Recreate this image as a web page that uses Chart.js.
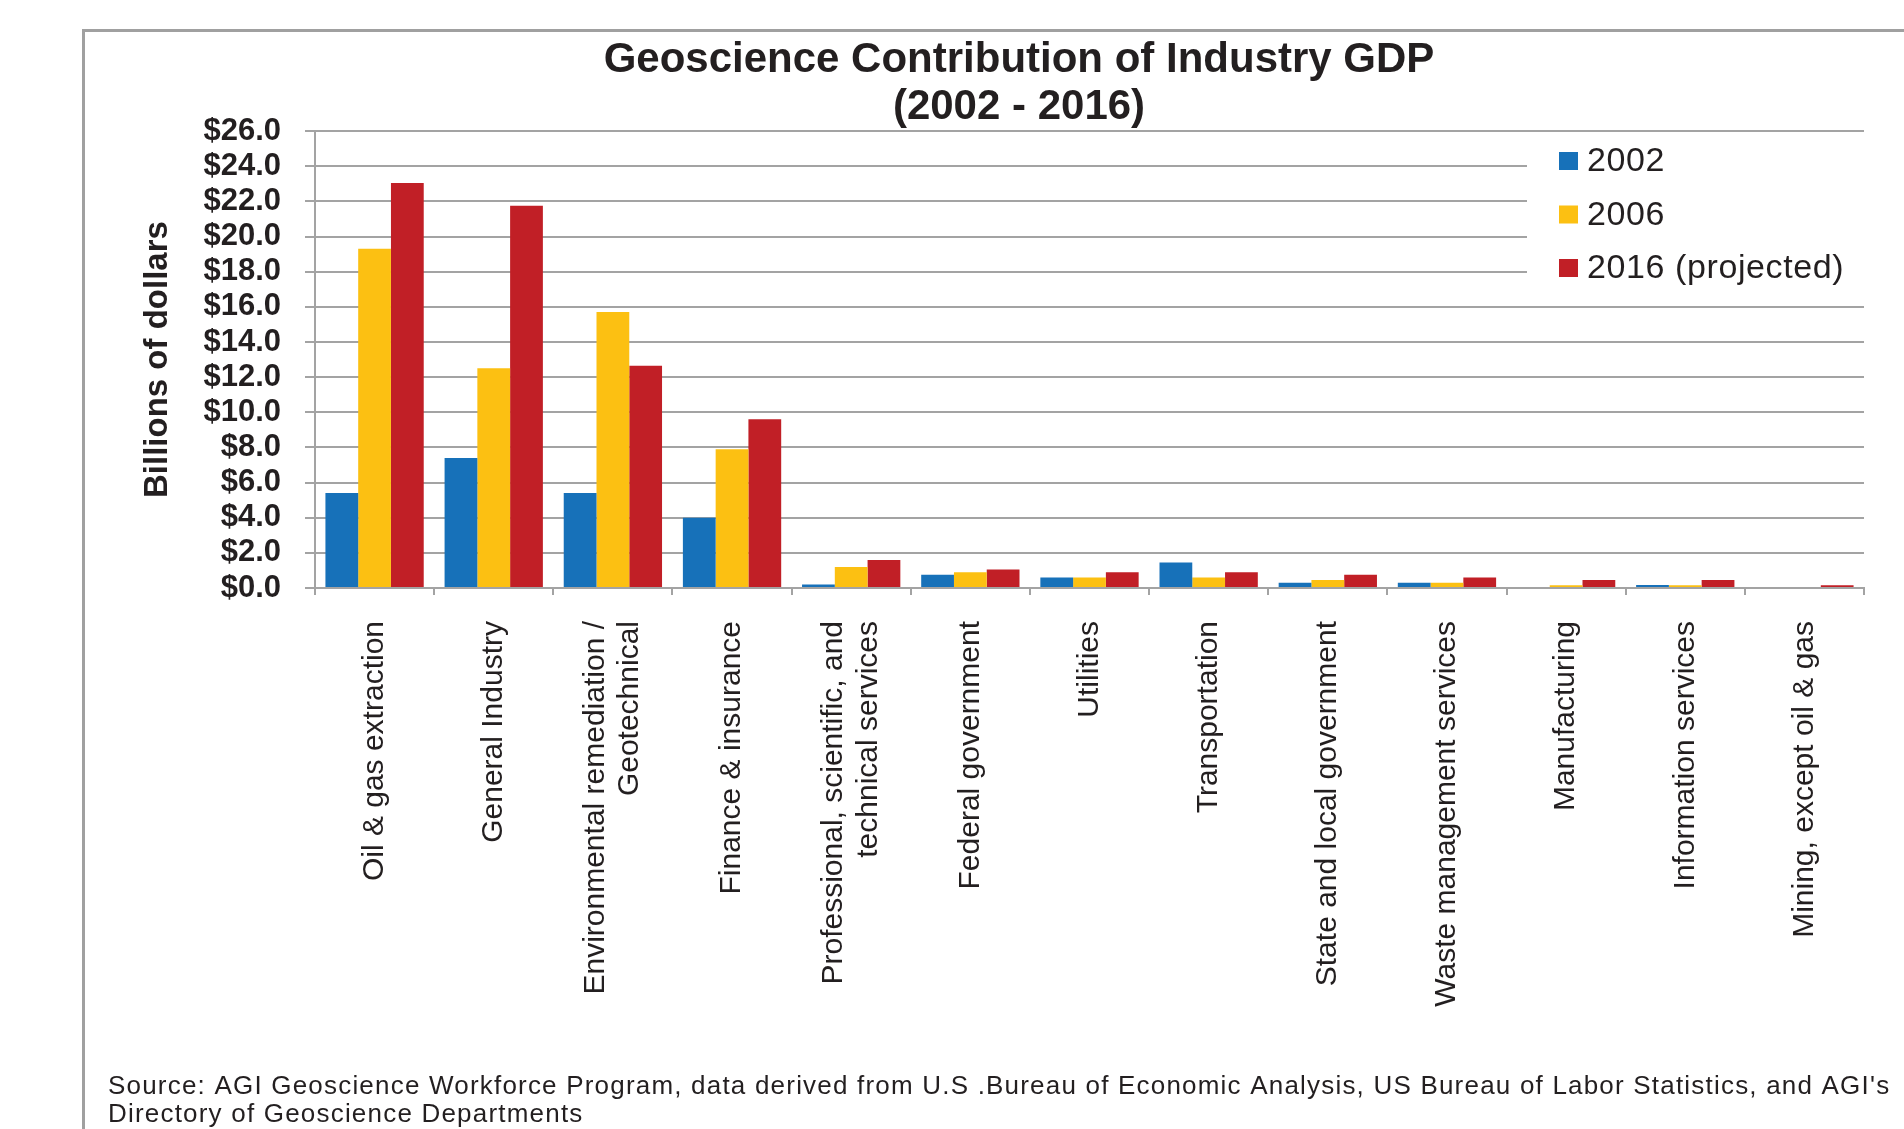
<!DOCTYPE html>
<html>
<head>
<meta charset="utf-8">
<title>Geoscience Contribution of Industry GDP</title>
<script src="https://cdn.jsdelivr.net/npm/chart.js@4.4.0/dist/chart.umd.min.js"></script>
<style>
  html, body { margin: 0; padding: 0; background: #fff; overflow: hidden; }
  canvas { display: block; }
</style>
</head>
<body>
<canvas id="grafico-gdp" width="1904" height="1129"></canvas>
<script>
// Industries on the x axis
const categories = [
  'Oil & gas extraction',
  'General Industry',
  ['Environmental remediation /', 'Geotechnical'],
  'Finance & insurance',
  ['Professional, scientific, and', 'technical services'],
  'Federal government',
  'Utilities',
  'Transportation',
  'State and local government',
  'Waste management services',
  'Manufacturing',
  'Information services',
  'Mining, except oil & gas'
];

// Billions of dollars
const values2002 = [5.4, 7.4, 5.4, 4.0, 0.2, 0.75, 0.6, 1.45, 0.3, 0.3, 0, 0.17, 0];
const values2006 = [19.3, 12.5, 15.7, 7.9, 1.2, 0.9, 0.6, 0.6, 0.45, 0.3, 0.15, 0.15, 0];
const values2016 = [23.05, 21.75, 12.65, 9.6, 1.6, 1.05, 0.9, 0.9, 0.75, 0.6, 0.45, 0.45, 0.15];

const seriesLabels = ['2002', '2006', '2016 (projected)'];
const yTickLabels = ['$0.0', '$2.0', '$4.0', '$6.0', '$8.0', '$10.0', '$12.0', '$14.0',
  '$16.0', '$18.0', '$20.0', '$22.0', '$24.0', '$26.0'];

const sourceLines = [
  "Source: AGI Geoscience Workforce Program, data derived from U.S .Bureau of Economic Analysis, US Bureau of Labor Statistics, and AGI's",
  'Directory of Geoscience Departments'
];

const fontFamily = '"Liberation Sans", Arial, Helvetica, sans-serif';
const textColor = '#231f20';
const gridColor = '#a3a3a3';

// white page, grey frame, legend inside the plot and the source note
const framePlugin = {
  id: 'frame',
  beforeDraw(chart) {
    const ctx = chart.ctx;
    ctx.save();
    ctx.fillStyle = '#fff';
    ctx.fillRect(0, 0, chart.width, chart.height);
    ctx.strokeStyle = '#a0a0a0';
    ctx.lineWidth = 3;
    ctx.beginPath();
    ctx.moveTo(83.5, chart.height);
    ctx.lineTo(83.5, 30.5);
    ctx.lineTo(chart.width, 30.5);
    ctx.stroke();
    ctx.restore();

    // center two-line category labels on their tick, like Excel does
    chart.scales.x.getLabelItems().forEach(item => {
      if (Array.isArray(item.label)) {
        item.textOffset -= (item.label.length - 1) * item.font.lineHeight / 2;
      }
    });
  },
  afterDraw(chart) {
    const ctx = chart.ctx;
    const area = chart.chartArea;
    ctx.save();

    // legend box over the grid lines
    ctx.fillStyle = '#fff';
    ctx.fillRect(1527, 138, area.right - 1527, 162);
    ctx.font = '34px ' + fontFamily;
    ctx.letterSpacing = '0.6px';
    ctx.textBaseline = 'middle';
    chart.data.datasets.forEach((ds, i) => {
      const y = 161 + i * 53.5;
      ctx.fillStyle = ds.backgroundColor;
      ctx.fillRect(1559, y - 9, 19, 18);
      ctx.fillStyle = textColor;
      ctx.fillText(ds.label, 1587, y + 1);
    });

    // source note
    ctx.font = '26px ' + fontFamily;
    ctx.letterSpacing = '1.2px';
    ctx.fillStyle = textColor;
    sourceLines.forEach((line, i) => {
      ctx.fillText(line, 108, 1087 + i * 28);
    });
    ctx.restore();
  }
};

const ctx = document.getElementById('grafico-gdp').getContext('2d');
const graficoGdp = new Chart(ctx, {
  type: 'bar',
  data: {
    labels: categories,
    datasets: [
      { label: seriesLabels[0], data: values2002, backgroundColor: '#1771b9' },
      { label: seriesLabels[1], data: values2006, backgroundColor: '#fcc012' },
      { label: seriesLabels[2], data: values2016, backgroundColor: '#c11f26' }
    ]
  },
  options: {
    responsive: false,
    animation: false,
    devicePixelRatio: 1,
    layout: {
      padding: { top: 30, left: 134, right: 0, bottom: 0 }
    },
    datasets: {
      bar: {
        categoryPercentage: 0.825,
        barPercentage: 1.0,
        borderWidth: 0
      }
    },
    plugins: {
      legend: { display: false },
      tooltip: { enabled: false },
      title: {
        display: true,
        text: ['Geoscience Contribution of Industry GDP', '(2002 - 2016)'],
        color: textColor,
        font: { family: fontFamily, size: 42, weight: 'bold', lineHeight: 1.12 },
        padding: { top: 7, bottom: 0 }
      }
    },
    scales: {
      x: {
        grid: {
          offset: true,
          drawOnChartArea: false,
          color: gridColor,
          lineWidth: 2,
          tickLength: 7
        },
        border: { display: true, color: gridColor, width: 2 },
        ticks: {
          autoSkip: false,
          minRotation: 90,
          maxRotation: 90,
          padding: 26,
          color: textColor,
          font: { family: fontFamily, size: 30, lineHeight: 1.15 }
        },
        afterFit(scale) {
          scale.height = 1129 - 588;
          scale.paddingRight = 40;
        }
      },
      y: {
        min: 0,
        max: 26,
        grid: {
          color: gridColor,
          lineWidth: 2,
          tickLength: 10
        },
        border: { display: true, color: gridColor, width: 2 },
        ticks: {
          stepSize: 2,
          autoSkip: false,
          padding: 24,
          color: textColor,
          font: { family: fontFamily, size: 31, weight: 'bold', lineHeight: 1 },
          callback: (value, index) => yTickLabels[index]
        },
        title: {
          display: true,
          text: 'Billions of dollars',
          color: textColor,
          font: { family: fontFamily, size: 33, weight: 'bold' },
          padding: { top: 4, bottom: 0 }
        },
        afterFit(scale) {
          scale.width = 315 - 134;
        }
      }
    }
  },
  plugins: [framePlugin]
});
</script>
</body>
</html>
